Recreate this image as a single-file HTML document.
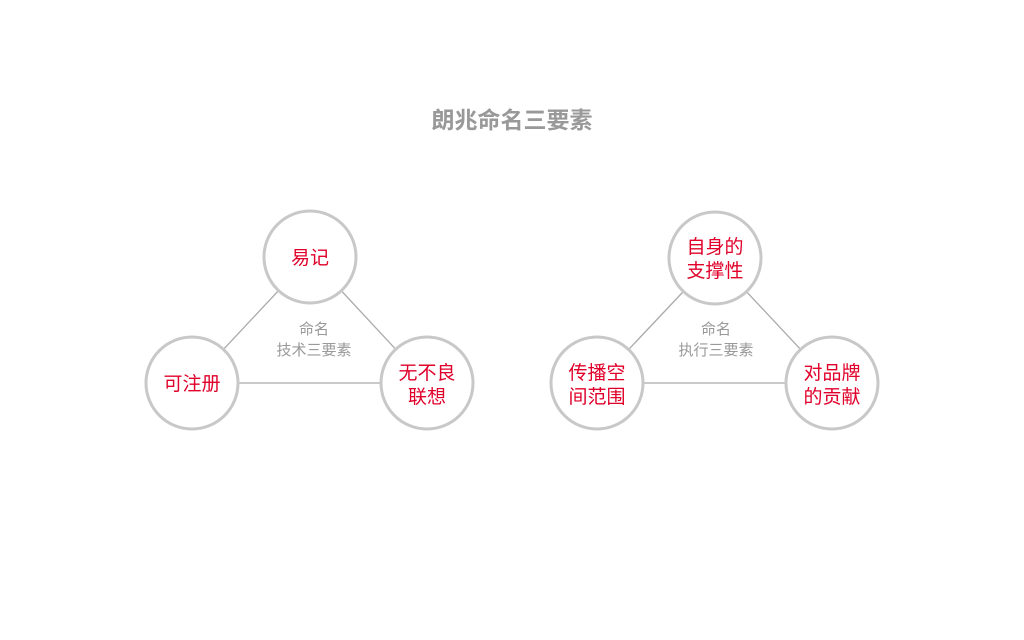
<!DOCTYPE html>
<html><head><meta charset="utf-8"><style>
body{margin:0;width:1024px;height:640px;background:#fff;overflow:hidden;font-family:"Liberation Sans","Noto Sans CJK SC",sans-serif}
</style></head><body>
<svg width="1024" height="640" xmlns="http://www.w3.org/2000/svg" style="position:absolute;left:0;top:0">
<text x="512" y="128" text-anchor="middle" font-size="23" font-weight="bold" fill="#999" font-family="Liberation Sans, Noto Sans CJK SC, sans-serif">朗兆命名三要素</text>
<g stroke="#aaa" stroke-width="1.3">
<line x1="310" y1="257" x2="192" y2="383"/><line x1="310" y1="257" x2="427" y2="383"/><line x1="192" y1="383" x2="427" y2="383"/>
<line x1="715" y1="258" x2="597" y2="383"/><line x1="715" y1="258" x2="832" y2="383"/><line x1="597" y1="383" x2="832" y2="383"/>
</g>
<g fill="#fff" stroke="#c8c8c8" stroke-width="3">
<circle cx="310" cy="257" r="46"/><circle cx="192" cy="383" r="46"/><circle cx="427" cy="383" r="46"/>
<circle cx="715" cy="258" r="46"/><circle cx="597" cy="383" r="46"/><circle cx="832" cy="383" r="46"/>
</g>
<g fill="#e0002a" font-size="19" text-anchor="middle" font-family="Liberation Sans, Noto Sans CJK SC, sans-serif">
<text x="310" y="264">易记</text>
<text x="192" y="390">可注册</text>
<text x="427" y="379">无不良</text><text x="427" y="403">联想</text>
<text x="715" y="253">自身的</text><text x="715" y="277">支撑性</text>
<text x="597" y="379">传播空</text><text x="597" y="403">间范围</text>
<text x="832" y="379">对品牌</text><text x="832" y="403">的贡献</text>
</g>
<g fill="#999" font-size="15" text-anchor="middle" font-family="Liberation Sans, Noto Sans CJK SC, sans-serif">
<text x="314" y="334">命名</text><text x="314" y="355">技术三要素</text>
<text x="716" y="334">命名</text><text x="716" y="355">执行三要素</text>
</g>
</svg>
</body></html>
